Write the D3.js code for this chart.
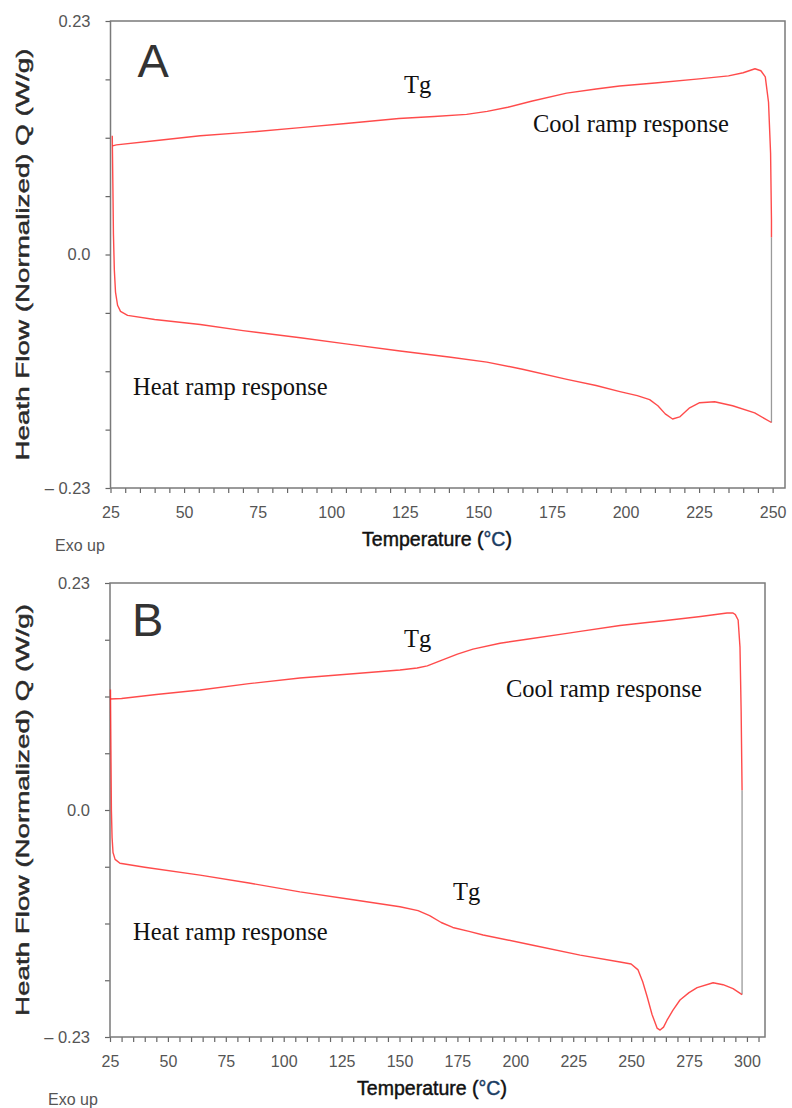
<!DOCTYPE html>
<html>
<head>
<meta charset="utf-8">
<script src="https://cdn.jsdelivr.net/npm/d3@7"></script>
<style>
  body { margin: 0; background: #fff; }
  svg text { font-family: "Liberation Sans", Arial, sans-serif; }
  .anno { font-family: "Liberation Serif", "Times New Roman", serif !important; font-size: 24.5px; fill: #111; }
</style>
</head>
<body>
<div id="chart"></div>
<script>
// panel A: heat ramp (T rising) and cool ramp (T falling), W/g
let heatA_T = [25.6, 25.8, 26.0, 26.3, 26.7, 27.4, 28.4, 30.8, 40, 55.5, 70, 89.5, 105, 123.4, 140, 152.9, 165, 180.1, 190, 198.1, 204, 208.2, 211, 213.5, 216, 218.4, 221.8, 225.2, 230.3, 236.4, 243.9, 249.6];
let heatA_Q = [0.117, 0.07, 0.02, -0.015, -0.037, -0.050, -0.056, -0.060, -0.064, -0.069, -0.075, -0.082, -0.088, -0.095, -0.101, -0.106, -0.113, -0.123, -0.129, -0.135, -0.139, -0.143, -0.149, -0.157, -0.162, -0.160, -0.151, -0.146, -0.145, -0.149, -0.156, -0.1655];
let coolA_T = [249.6, 249.6, 249.3, 248.6, 247.5, 246, 244, 240, 235, 225, 210, 198, 190, 180, 168, 160, 153, 146, 135, 123, 105, 89.5, 70, 55.5, 40, 27, 25.7];
let coolA_Q = [0.017, 0.034, 0.100, 0.150, 0.175, 0.181, 0.183, 0.179, 0.176, 0.173, 0.169, 0.166, 0.163, 0.159, 0.151, 0.145, 0.141, 0.138, 0.136, 0.134, 0.129, 0.125, 0.120, 0.117, 0.112, 0.108, 0.107];

// panel B
let heatB_T = [25.2, 25.4, 25.6, 25.9, 26.3, 27.2, 29.3, 40, 63.9, 85, 107, 130, 150.2, 158, 163, 168, 173, 180, 186.1, 207.6, 228, 245.2, 250, 253, 255, 256.9, 259, 261.2, 262.5, 264, 265.5, 268, 271.1, 275, 278.5, 285.4, 289.7, 294, 297.9];
let heatB_Q = [0.122, 0.06, 0.0, -0.028, -0.043, -0.050, -0.054, -0.058, -0.066, -0.074, -0.083, -0.091, -0.098, -0.102, -0.107, -0.114, -0.119, -0.123, -0.1266, -0.137, -0.147, -0.154, -0.156, -0.162, -0.174, -0.189, -0.207, -0.221, -0.223, -0.220, -0.213, -0.203, -0.1925, -0.185, -0.180, -0.175, -0.177, -0.181, -0.187];
let coolB_T = [297.9, 297.5, 297.0, 296.2, 295, 294.0, 291.4, 280, 265, 256.9, 245.2, 228, 222.3, 205, 193.4, 181.7, 175, 167.5, 162, 157.6, 150.2, 130, 107, 85, 63.9, 45, 30, 25.0];
let coolB_Q = [0.020, 0.10, 0.165, 0.1925, 0.198, 0.1996, 0.1996, 0.196, 0.192, 0.190, 0.187, 0.181, 0.179, 0.173, 0.169, 0.163, 0.158, 0.151, 0.146, 0.1439, 0.1418, 0.138, 0.1337, 0.128, 0.1216, 0.117, 0.113, 0.1125];

let yLabels = [0.23, 0, -0.23];
let xLabelsA = d3.range(25, 251, 25);
let xLabelsB = d3.range(25, 301, 25);

let svg = d3.select("#chart").append("svg")
    .attr("width", 792)
    .attr("height", 1108)
    .style("background", "#fff");

function zip(T, Q) { return T.map(function(t, i) { return {t: t, q: Q[i]}; }); }

function gen_panel(p) {
    let x = d3.scaleLinear().domain([25, p.xmax]).range([p.left, p.right]);
    let y = d3.scaleLinear().domain([-0.23, 0.23]).range([p.bottom, p.top]);
    let g = svg.append("g");

    // x ticks every 5 C, labels every 25
    let xAxis = d3.axisBottom(x)
        .tickValues(d3.range(25, p.xlast + 1, 5))
        .tickSize(5)
        .tickFormat(function(d) { return p.xlabels.indexOf(d) >= 0 ? d : ""; });
    let xa = g.append("g").attr("transform", "translate(0," + p.bottom + ")").call(xAxis);
    xa.select(".domain").remove();
    xa.selectAll("line").attr("stroke", "#666").attr("stroke-width", 1.2);
    xa.selectAll("text").attr("font-size", 16).attr("fill", "#555").attr("dy", "1.4em");

    let yAxis = d3.axisLeft(y)
        .tickValues(d3.range(0, 9).map(function(i) { return -0.23 + i * 0.0575; }))
        .tickSize(5)
        .tickFormat(function(d) {
            if (Math.abs(d - yLabels[0]) < 1e-6) return "0.23";
            if (Math.abs(d - yLabels[1]) < 1e-6) return "0.0";
            if (Math.abs(d - yLabels[2]) < 1e-6) return "\u2013 0.23";
            return "";
        });
    let ya = g.append("g").attr("transform", "translate(" + p.left + ",0)").call(yAxis);
    ya.select(".domain").remove();
    ya.selectAll("line").attr("stroke", "#666").attr("stroke-width", 1.2);
    ya.selectAll("text").attr("font-size", 16.5).attr("fill", "#555").attr("x", -20);

    // frame
    g.append("rect")
        .attr("x", p.left).attr("y", p.top)
        .attr("width", p.right - p.left).attr("height", p.bottom - p.top)
        .attr("fill", "none").attr("stroke", "#7a7a7a").attr("stroke-width", 1.5);

    let line = d3.line()
        .x(function(d) { return x(d.t); })
        .y(function(d) { return y(d.q); });
    let heat = zip(p.heatT, p.heatQ);
    let cool = zip(p.coolT, p.coolQ);

    // isothermal jump between ramps
    g.append("path")
        .attr("d", line([heat[heat.length - 1], cool[0]]))
        .attr("fill", "none").attr("stroke", "#9a9a9a").attr("stroke-width", 1.3);

    [heat, cool].forEach(function(s) {
        g.append("path")
            .attr("d", line(s))
            .attr("fill", "none")
            .attr("stroke", "#ff2b2b")
            .attr("stroke-opacity", 0.85)
            .attr("stroke-width", 1.4)
            .attr("stroke-linejoin", "round");
    });

    g.append("text").text(p.letter)
        .attr("x", p.left + p.letterDx).attr("y", p.top + p.letterDy)
        .attr("font-size", 47).attr("fill", "#333");

    p.notes.forEach(function(n) {
        g.append("text").attr("class", "anno").text(n.text).attr("x", n.x).attr("y", n.y);
    });

    // medium weight faked with a thin stroke
    g.append("text")
        .attr("transform", "translate(" + 29 + "," + ((p.top + p.bottom) / 2) + ") rotate(-90)")
        .attr("text-anchor", "middle")
        .attr("font-size", 19)
        .attr("fill", "#2a2a2a")
        .attr("stroke", "#2a2a2a")
        .attr("stroke-width", 0.45)
        .attr("textLength", 412)
        .attr("lengthAdjust", "spacingAndGlyphs")
        .text("Heath Flow (Normalized) Q (W/g)");

    let xt = g.append("text")
        .attr("x", p.xtitleX).attr("y", p.bottom + 58)
        .attr("text-anchor", "middle")
        .attr("font-size", 19.5)
        .attr("fill", "#111")
        .attr("stroke", "#111")
        .attr("stroke-width", 0.45);
    xt.append("tspan").text("Temperature (");
    xt.append("tspan").attr("fill", "#1b3d63").attr("stroke", "#1b3d63").text("\u00b0C");
    xt.append("tspan").text(")");

    g.append("text").text("Exo up")
        .attr("x", p.exoX).attr("y", p.bottom + p.exoDy)
        .attr("font-size", 16).attr("fill", "#555");
}

gen_panel({
    letter: "A", left: 110.5, right: 785, top: 21, bottom: 488, xmax: 254.2, xlast: 250,
    xlabels: xLabelsA, heatT: heatA_T, heatQ: heatA_Q, coolT: coolA_T, coolQ: coolA_Q,
    letterDx: 27, letterDy: 56, xtitleX: 437, exoX: 55, exoDy: 63,
    notes: [
        {text: "Tg", x: 404, y: 93},
        {text: "Cool ramp response", x: 533, y: 132},
        {text: "Heat ramp response", x: 133, y: 395}
    ]
});

gen_panel({
    letter: "B", left: 110, right: 765, top: 583, bottom: 1037, xmax: 307.8, xlast: 305,
    xlabels: xLabelsB, heatT: heatB_T, heatQ: heatB_Q, coolT: coolB_T, coolQ: coolB_Q,
    letterDx: 22, letterDy: 53, xtitleX: 432, exoX: 48, exoDy: 68,
    notes: [
        {text: "Tg", x: 404, y: 647},
        {text: "Cool ramp response", x: 506, y: 697},
        {text: "Tg", x: 453, y: 900},
        {text: "Heat ramp response", x: 133, y: 940}
    ]
});
</script>
</body>
</html>
